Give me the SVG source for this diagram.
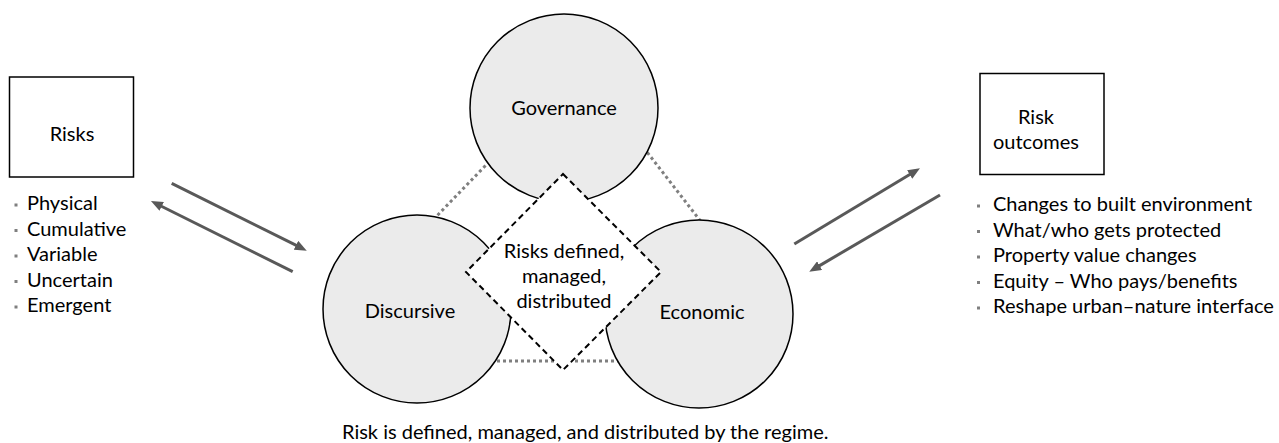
<svg xmlns="http://www.w3.org/2000/svg" width="1279" height="443" viewBox="0 0 1279 443">
  <style>
    text { font-family: Lato, "Liberation Sans", sans-serif; font-size: 20px; fill: #000; }
    .c { text-anchor: middle; }
    .box { fill: #fff; stroke: #000; stroke-width: 1.5; }
    .circ { fill: #ebebeb; stroke: #000; stroke-width: 1.5; }
    .dot { stroke: #7f7f7f; stroke-width: 3; stroke-dasharray: 3 3; fill: none; }
    .arr { stroke: #595959; stroke-width: 3; fill: none; marker-end: url(#ah); }
    .bul { fill: #7f7f7f; }
  </style>
  <defs>
    <marker id="ah" markerWidth="12" markerHeight="10" refX="2" refY="5" orient="auto" markerUnits="userSpaceOnUse">
      <path d="M0,0 L12,5 L0,10 z" fill="#595959"/>
    </marker>
  </defs>

  <g id="connectors">
    <line class="dot" x1="498" y1="152.6" x2="430" y2="223"/>
    <line class="dot" x1="640" y1="143" x2="709" y2="232"/>
    <line class="dot" x1="485" y1="361" x2="630" y2="361"/>
    <line class="arr" x1="171.7" y1="183.3" x2="297.8" y2="246.2"/>
    <line class="arr" x1="292.7" y1="271.7" x2="159.9" y2="205.5"/>
    <line class="arr" x1="794.3" y1="244" x2="911.4" y2="173.5"/>
    <line class="arr" x1="940" y1="195" x2="817.9" y2="266.6"/>
  </g>

  <g id="risks">
    <rect class="box" x="9.5" y="77" width="124" height="100"/>
    <text class="c" x="72" y="141">Risks</text>
    <rect class="bul" x="14.5" y="203.5" width="3" height="3"/>
    <text x="27" y="210">Physical</text>
    <rect class="bul" x="14.5" y="229" width="3" height="3"/>
    <text x="27" y="235.5">Cumulative</text>
    <rect class="bul" x="14.5" y="254.5" width="3" height="3"/>
    <text x="27" y="261">Variable</text>
    <rect class="bul" x="14.5" y="280" width="3" height="3"/>
    <text x="27" y="286.5">Uncertain</text>
    <rect class="bul" x="14.5" y="305.5" width="3" height="3"/>
    <text x="27" y="312">Emergent</text>
  </g>

  <g id="governance">
    <circle class="circ" cx="564" cy="108" r="94"/>
    <text class="c" x="564" y="115">Governance</text>
  </g>
  <g id="discursive">
    <circle class="circ" cx="417" cy="309" r="94"/>
    <text class="c" x="410" y="318">Discursive</text>
  </g>
  <g id="economic">
    <circle class="circ" cx="699" cy="314" r="94"/>
    <text class="c" x="702" y="319">Economic</text>
  </g>

  <g id="center">
    <polygon points="563,174 661,272 563,370 466,272" fill="#fff" stroke="#000" stroke-width="2" stroke-dasharray="6 4"/>
    <text class="c" x="564" y="258">Risks defined,</text>
    <text class="c" x="564" y="283">managed,</text>
    <text class="c" x="564" y="308">distributed</text>
  </g>

  <g id="outcomes">
    <rect class="box" x="980" y="73.5" width="124" height="101"/>
    <text class="c" x="1036" y="123.5">Risk</text>
    <text class="c" x="1036" y="149">outcomes</text>
    <rect class="bul" x="977" y="204.5" width="3" height="3"/>
    <text x="993" y="211">Changes to built environment</text>
    <rect class="bul" x="977" y="230" width="3" height="3"/>
    <text x="993" y="236.5">What/who gets protected</text>
    <rect class="bul" x="977" y="255.5" width="3" height="3"/>
    <text x="993" y="262">Property value changes</text>
    <rect class="bul" x="977" y="281" width="3" height="3"/>
    <text x="993" y="287.5">Equity – Who pays/benefits</text>
    <rect class="bul" x="977" y="306.5" width="3" height="3"/>
    <text x="993" y="313">Reshape urban–nature interface</text>
  </g>

  <g id="caption">
    <text x="342" y="439">Risk is defined, managed, and distributed by the regime.</text>
  </g>
</svg>
